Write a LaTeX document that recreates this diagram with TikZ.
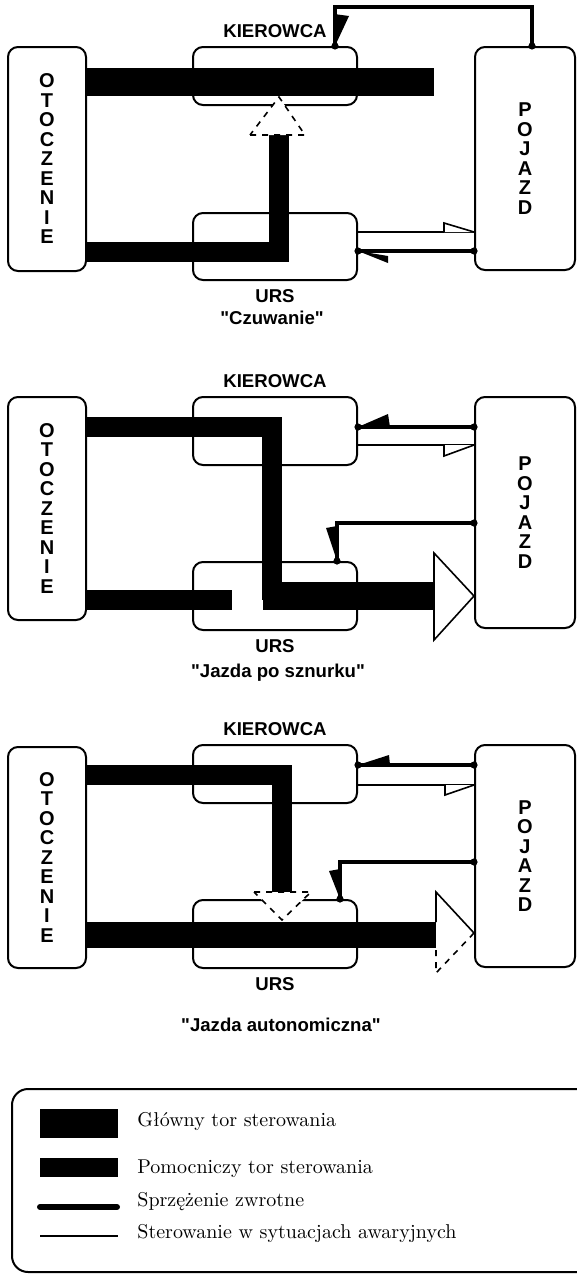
\documentclass[tikz,border=0pt]{standalone}
\usepackage{fontspec}
\setsansfont{Liberation Sans}[Ligatures=TeXOff]
\usetikzlibrary{positioning,calc}
\tikzset{
  block/.style={draw,line width=1pt,rounded corners=5pt,align=center,inner sep=0pt,
    font=\sffamily\bfseries\fontsize{10}{9.75}\selectfont},
  title/.style={font=\sffamily\bfseries\fontsize{9.3}{11}\selectfont,inner sep=1pt},
  legendtext/.style={font=\fontsize{10}{12}\selectfont,anchor=base west,inner sep=0pt},
  mainpath/.style={line width=14pt},
  auxpath/.style={line width=10pt},
  feedback/.style={line width=2.3pt},
  emergency/.style={line width=0.8pt},
  openhead/.style={line width=0.8pt,fill=white}
}

\begin{document}
\begin{tikzpicture}[x=0.5pt,y=-0.5pt]
  \useasboundingbox (0,0) rectangle (577,1274);

  % "Czuwanie"
  \node[block,minimum width=39pt,minimum height=112pt] (otoA) at (47,159) {O\\T\\O\\C\\Z\\E\\N\\I\\E};
  \node[block,minimum width=82pt,minimum height=29pt] (kierA) at (275,76) {};
  \node[block,minimum width=82pt,minimum height=33.5pt] (ursA) at (275,246.5) {};
  \node[block,minimum width=50pt,minimum height=111.5pt] (pojA) at (525,158.5) {P\\O\\J\\A\\Z\\D};
  \node[title,above=3pt of kierA] (kierAt) {KIEROWCA};
  \node[title,below=3pt of ursA] (ursAt) {URS};
  \node[title] (capA) at (272,318) {"Czuwanie"};
  \coordinate (endA) at (434,82);
  \coordinate (cornerA) at (278.5,252);
  \coordinate (upA) at (278.5,135);
  \draw[mainpath] (otoA.east |- endA) -- (endA);
  \draw[auxpath] (otoA.east |- cornerA) -- (cornerA) -- (upA);
  \draw[emergency,dashed,fill=white] (250,135) -- (305,135) -- (279,97) -- cycle;
  \coordinate (fbA1) at (532,7);
  \coordinate (fbA2) at (335,7);
  \draw[feedback] (pojA.north -| fbA1) -- (fbA1) -- (fbA2) -- (kierA.north -| fbA2);
  \fill (kierA.north -| fbA2) -- ++(-1,-32) -- ++(15,2) -- cycle;
  \draw[emergency] (ursA.east |- 0,232) -- (pojA.west |- 0,232);
  \draw[openhead] (444,232) -- (444,223) -- (pojA.west |- 0,232);
  \draw[feedback] (pojA.west |- 0,251) -- (ursA.east |- 0,251);
  \fill (ursA.east |- 0,251) -- ++(30,12) -- ++(0,-7) -- cycle;
  \foreach \p in {(pojA.north -| fbA1),(pojA.west |- 0,251),(ursA.east |- 0,251),(kierA.north -| fbA2)}
    \fill \p circle (1.8pt);

  % "Jazda po sznurku"
  \node[block,minimum width=39pt,minimum height=111.5pt] (otoB) at (47,508.5) {O\\T\\O\\C\\Z\\E\\N\\I\\E};
  \node[block,minimum width=82pt,minimum height=34pt] (kierB) at (275,431) {};
  \node[block,minimum width=82pt,minimum height=34pt] (ursB) at (275,596) {};
  \node[block,minimum width=50pt,minimum height=115.5pt] (pojB) at (525,512.5) {P\\O\\J\\A\\Z\\D};
  \node[title,above=3pt of kierB] (kierBt) {KIEROWCA};
  \node[title,below=3pt of ursB] (ursBt) {URS};
  \node[title] (capB) at (278,673) {"Jazda po sznurku"};
  \coordinate (cornerB) at (271.5,427);
  \coordinate (arrB) at (434,596);
  \draw[auxpath] (otoB.east |- cornerB) -- (cornerB) -- (271.5,600);
  \draw[mainpath] (263,596) -- (arrB);
  \draw[openhead] (434,553) -- (pojB.west |- arrB) -- (434,640) -- cycle;
  \draw[auxpath] (otoB.east |- 0,600) -- (232,600);
  \draw[emergency] (kierB.east |- 0,445) -- (pojB.west |- 0,445);
  \draw[openhead] (444,445) -- (444,456) -- (pojB.west |- 0,445);
  \draw[feedback] (pojB.west |- 0,427) -- (kierB.east |- 0,427);
  \fill (kierB.east |- 0,427) -- ++(30,-13) -- ++(2,13) -- cycle;
  \coordinate (fbB) at (337,523);
  \draw[feedback] (pojB.west |- fbB) -- (fbB) -- (ursB.north -| fbB);
  \fill (ursB.north -| fbB) -- ++(-11,-33) -- ++(11,-2) -- cycle;
  \foreach \p in {(pojB.west |- 0,427),(kierB.east |- 0,427),(pojB.west |- fbB),(ursB.north -| fbB)}
    \fill \p circle (1.8pt);

  % "Jazda autonomiczna"
  \node[block,minimum width=39pt,minimum height=110.5pt] (otoC) at (47,857.5) {O\\T\\O\\C\\Z\\E\\N\\I\\E};
  \node[block,minimum width=82pt,minimum height=29pt] (kierC) at (275,774) {};
  \node[block,minimum width=82pt,minimum height=34pt] (ursC) at (275,934) {};
  \node[block,minimum width=50pt,minimum height=111pt] (pojC) at (525,856) {P\\O\\J\\A\\Z\\D};
  \node[title,above=3pt of kierC] (kierCt) {KIEROWCA};
  \node[title,below=3pt of ursC] (ursCt) {URS};
  \node[title] (capC) at (281,1025) {"Jazda autonomiczna"};
  \coordinate (cornerC) at (281.5,775);
  \coordinate (arrC) at (436,935);
  \draw[auxpath] (otoC.east |- cornerC) -- (cornerC) -- (281.5,892);
  \draw[emergency,dashed,fill=white] (254,892) -- (311,892) -- (282,920) -- cycle;
  \draw[line width=13pt] (otoC.east |- arrC) -- (arrC);
  \draw[emergency] (436,922) -- (436,892) -- (pojC.west |- 0,933);
  \draw[emergency,dashed] (pojC.west |- 0,933) -- (436,973) -- (436,948);
  \draw[emergency] (kierC.east |- 0,785) -- (pojC.west |- 0,785);
  \draw[openhead] (445,785) -- (445,795) -- (pojC.west |- 0,785);
  \draw[feedback] (pojC.west |- 0,765) -- (kierC.east |- 0,765);
  \fill (kierC.east |- 0,765) -- ++(31,-10) -- ++(1,10) -- cycle;
  \coordinate (fbC) at (340,862);
  \draw[feedback] (pojC.west |- fbC) -- (fbC) -- (ursC.north -| fbC);
  \fill (ursC.north -| fbC) -- ++(-11,-28) -- ++(11,-2) -- cycle;
  \foreach \p in {(pojC.west |- 0,765),(kierC.east |- 0,765),(pojC.west |- fbC),(ursC.north -| fbC)}
    \fill \p circle (1.8pt);

  % legenda
  \draw[line width=1pt,rounded corners=8pt] (12,1089) rectangle (600,1272);
  \fill (40,1109) rectangle (118,1138);
  \fill (40,1158) rectangle (118,1177);
  \draw[line width=3pt,line cap=round] (40,1207) -- (117,1207);
  \draw[line width=1pt] (40,1236) -- (118,1236);
  \node[legendtext] (lg1) at (137,1126) {Główny tor sterowania};
  \node[legendtext] (lg2) at (137,1173) {Pomocniczy tor sterowania};
  \node[legendtext] (lg3) at (137,1206) {Sprzężenie zwrotne};
  \node[legendtext] (lg4) at (137,1238) {Sterowanie w sytuacjach awaryjnych};
\end{tikzpicture}
\end{document}
